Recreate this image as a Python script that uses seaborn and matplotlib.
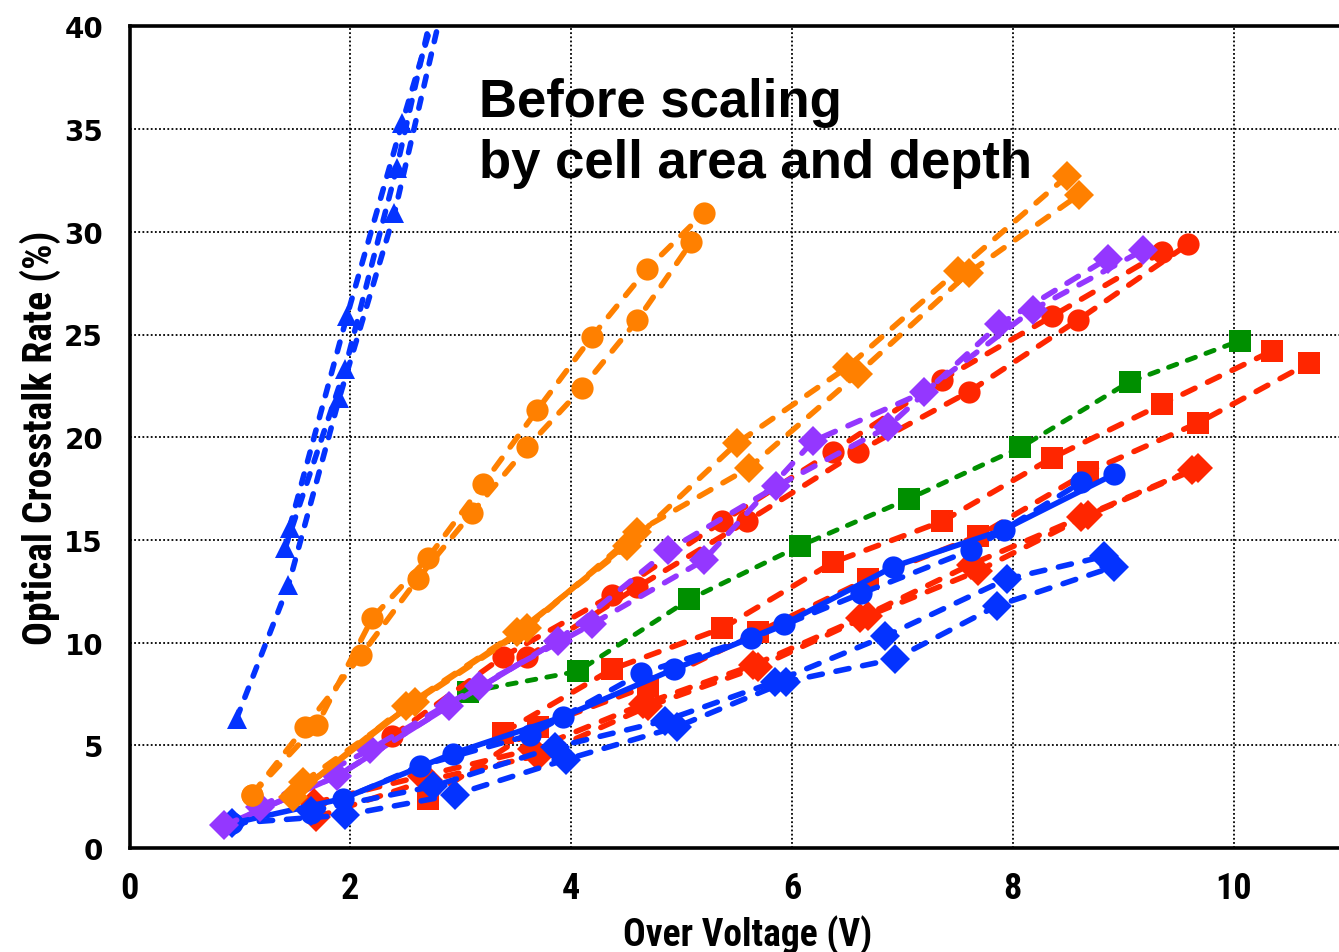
import numpy as np
import pandas as pd
import matplotlib
matplotlib.use('Agg')
import matplotlib.pyplot as plt
from matplotlib import font_manager
import seaborn as sns

# ---- data (Over Voltage [V], Optical Crosstalk [%]) ----
tri1_x = [0.97, 1.44, 1.90, 2.40, 2.90]
tri1_y = [6.3, 12.8, 21.9, 30.9, 42.5]
tri2_x = [1.41, 1.95, 2.42, 2.90]
tri2_y = [14.6, 23.3, 33.1, 44.5]
tri3_x = [1.45, 1.97, 2.47, 2.95]
tri3_y = [15.6, 25.9, 35.3, 44.0]

oc1_x = [1.11, 1.70, 2.20, 2.70, 3.20, 3.69, 4.19, 4.69, 5.20]
oc1_y = [2.6, 6.0, 11.2, 14.1, 17.7, 21.3, 24.9, 28.2, 30.9]
oc2_x = [1.11, 1.59, 2.10, 2.61, 3.10, 3.60, 4.10, 4.60, 5.09]
oc2_y = [2.6, 5.9, 9.4, 13.1, 16.3, 19.5, 22.4, 25.7, 29.5]

od1_x = [1.48, 2.50, 3.51, 4.51, 5.50, 6.50, 7.50, 8.49]
od1_y = [2.5, 6.9, 10.5, 14.7, 19.7, 23.4, 28.1, 32.7]
od2_x = [1.57, 2.59, 3.60, 4.60, 5.61, 6.60, 7.60, 8.60]
od2_y = [3.2, 7.1, 10.7, 15.4, 18.5, 23.1, 28.0, 31.8]
os_x = [1.48, 2.55, 3.55, 4.55]
os_y = [2.5, 7.0, 10.6, 15.0]

pd1_x = [0.86, 1.88, 2.89, 3.88, 4.88, 5.86, 6.87, 7.88, 8.86]
pd1_y = [1.1, 3.5, 6.9, 10.1, 14.5, 17.6, 20.5, 25.5, 28.7]
pd2_x = [1.18, 2.18, 3.17, 4.19, 5.20, 6.19, 7.20, 8.18, 9.18]
pd2_y = [2.0, 4.8, 7.9, 10.9, 14.0, 19.8, 22.2, 26.2, 29.1]

rc1_x = [2.38, 3.38, 4.37, 5.37, 6.37, 7.36, 8.36, 9.35]
rc1_y = [5.45, 9.3, 12.3, 15.9, 19.3, 22.8, 25.9, 29.0]
rc2_x = [3.60, 4.60, 5.59, 6.60, 7.60, 8.59, 9.59]
rc2_y = [9.3, 12.7, 15.9, 19.3, 22.2, 25.7, 29.4]

gs_x = [3.07, 4.06, 5.07, 6.07, 7.06, 8.07, 9.06, 10.06]
gs_y = [7.6, 8.6, 12.1, 14.7, 17.0, 19.5, 22.7, 24.7]

rs1_x = [3.38, 4.37, 5.37, 6.37, 7.36, 8.36, 9.35, 10.35]
rs1_y = [5.6, 8.7, 10.7, 13.9, 15.9, 19.0, 21.6, 24.2]
rs2_x = [2.70, 3.70, 4.70, 5.69, 6.69, 7.69, 8.68, 9.68, 10.68]
rs2_y = [2.4, 5.9, 7.9, 10.5, 13.1, 15.2, 18.3, 20.7, 23.6]

rd1_x = [1.69, 2.70, 3.70, 4.70, 5.69, 6.69, 7.69, 8.68, 9.68]
rd1_y = [1.5, 3.3, 4.5, 6.9, 8.8, 11.3, 13.5, 16.2, 18.5]
rd2_x = [1.67, 2.65, 3.65, 4.65, 5.65, 6.62, 7.62, 8.62, 9.62]
rd2_y = [2.2, 3.5, 4.8, 7.0, 8.9, 11.2, 13.8, 16.1, 18.4]

bc1_x = [0.93, 1.93, 2.93, 3.93, 4.93, 5.93, 6.92, 7.92, 8.92]
bc1_y = [1.2, 2.4, 4.6, 6.4, 8.7, 10.9, 13.7, 15.5, 18.2]
bc2_x = [1.64, 2.63, 3.63, 4.63, 5.63, 6.63, 7.62, 8.62]
bc2_y = [1.7, 4.0, 5.5, 8.5, 10.2, 12.4, 14.5, 17.8]

bd1_x = [0.93, 1.95, 2.95, 3.95, 4.96, 5.95, 6.93, 7.86, 8.92]
bd1_y = [1.2, 1.6, 2.6, 4.3, 5.9, 8.1, 9.2, 11.8, 13.7]
bd2_x = [1.64, 2.75, 3.85, 4.85, 5.85, 6.84, 7.95, 8.83]
bd2_y = [1.8, 3.0, 4.9, 6.2, 8.1, 10.3, 13.1, 14.2]

BLUE = '#0433FF'
ORANGE = '#FF8000'
RED = '#FF2600'
GREEN = '#008F00'
PURPLE = '#9437FF'

DASH = (0, (2.4, 2.5))
SHORT = (0, (1.8, 2.3))

# (x, y, colour, marker, marker size, linestyle, line width)
series = [
    (rs2_x, rs2_y, RED, 's', 16, DASH, 4),
    (rs1_x, rs1_y, RED, 's', 16, DASH, 4),
    (rd1_x, rd1_y, RED, 'D', 15, DASH, 4),
    (rd2_x, rd2_y, RED, 'D', 15, DASH, 4),
    (bd1_x, bd1_y, BLUE, 'D', 15, DASH, 4),
    (bd2_x, bd2_y, BLUE, 'D', 15, DASH, 4),
    (bc2_x, bc2_y, BLUE, 'o', 16, DASH, 4),
    (bc1_x, bc1_y, BLUE, 'o', 16, '-', 4),
    (gs_x, gs_y, GREEN, 's', 16, SHORT, 3.5),
    (rc1_x, rc1_y, RED, 'o', 16, DASH, 4),
    (rc2_x, rc2_y, RED, 'o', 16, DASH, 4),
    (pd1_x, pd1_y, PURPLE, 'D', 15, DASH, 4),
    (pd2_x, pd2_y, PURPLE, 'D', 15, DASH, 4),
    (os_x, os_y, ORANGE, None, 0, '-', 4),
    (od1_x, od1_y, ORANGE, 'D', 15, DASH, 4),
    (od2_x, od2_y, ORANGE, 'D', 15, DASH, 4),
    (oc1_x, oc1_y, ORANGE, 'o', 16, DASH, 4),
    (oc2_x, oc2_y, ORANGE, 'o', 16, DASH, 4),
    (tri1_x, tri1_y, BLUE, '^', 15, SHORT, 4),
    (tri2_x, tri2_y, BLUE, '^', 15, SHORT, 4),
    (tri3_x, tri3_y, BLUE, '^', 15, SHORT, 4),
]

sns.set_style('white')
plt.rcParams['text.color'] = 'black'
plt.rcParams['axes.labelcolor'] = 'black'
plt.rcParams['xtick.color'] = 'black'
plt.rcParams['ytick.color'] = 'black'

# condensed face for axis labels if one is installed
names = {f.name for f in font_manager.fontManager.ttflist}
cond = [n for n in ['Liberation Sans Narrow', 'DejaVu Sans Condensed', 'Roboto Condensed'] if n in names]
NARROW = (cond[:1] or []) + ['DejaVu Sans']
STRETCH = 'normal' if cond else 'condensed'

fig = plt.figure(figsize=(13.39, 9.53), dpi=100)
ax = fig.add_axes([129.5 / 1339, 104 / 953, 11.2 * 110.4 / 1339, 821.6 / 953])

for x, y, col, mk, ms, ls, lw in series:
    df = pd.DataFrame({'x': x, 'y': y})
    sns.lineplot(data=df, x='x', y='y', ax=ax, color=col, marker=mk,
                 markersize=ms, markeredgewidth=0, linestyle=ls, linewidth=lw,
                 dash_capstyle='round', solid_capstyle='round',
                 estimator=None, sort=False, legend=False)

# purple lines look solid near the origin where the two dashed traces overlap
ax.plot(pd1_x[:4], pd1_y[:4], color=PURPLE, lw=4, zorder=1.9)

ax.set_xlim(0, 11.2)
ax.set_ylim(0, 40)
ax.set_xticks(np.arange(0, 12, 2))
ax.set_yticks(np.arange(0, 45, 5))
ax.set_axisbelow(True)
ax.grid(True, color='black', linestyle=(0, (1, 1.3)), linewidth=1.3)

for s in ['top', 'left', 'bottom']:
    ax.spines[s].set_linewidth(2.6)
    ax.spines[s].set_color('black')
ax.spines['right'].set_visible(False)

ax.tick_params(axis='both', length=0)
ax.tick_params(axis='y', pad=19)
ax.tick_params(axis='x', pad=16)
for lab in ax.get_yticklabels():
    lab.set_fontfamily('DejaVu Sans')
    lab.set_fontweight('heavy')
    lab.set_fontsize(20)
for lab in ax.get_xticklabels():
    lab.set_fontfamily(NARROW)
    lab.set_fontstretch(STRETCH)
    lab.set_fontweight('bold')
    lab.set_fontsize(26)

ax.set_xlabel('Over Voltage (V)', family=NARROW, fontstretch=STRETCH, fontweight='bold',
              fontsize=27, labelpad=6)
ax.set_ylabel('Optical Crosstalk Rate (%)', family=NARROW, fontstretch=STRETCH, fontweight='bold',
              fontsize=28.5, labelpad=2)

ax.text(3.17, 37.55, 'Before scaling\nby cell area and depth', family=['Liberation Sans', 'DejaVu Sans'],
        fontsize=38, fontweight='bold', va='top', ha='left', linespacing=1.3, zorder=0.4)

fig.savefig('out.png', dpi=100)
